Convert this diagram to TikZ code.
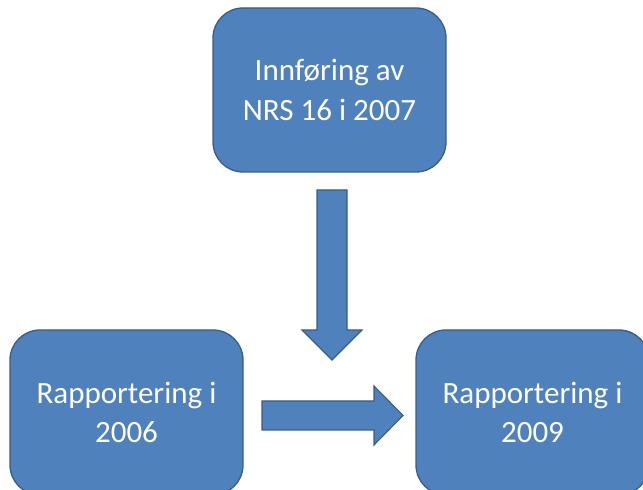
\documentclass[tikz,border=0pt]{standalone}
\usepackage{fontspec}
\setmainfont{Carlito}
\usepackage{tikz}
\usetikzlibrary{positioning}

\definecolor{boxfill}{HTML}{4F81BD}
\definecolor{boxline}{HTML}{385D8A}

\tikzset{
    stepbox/.style = {draw=boxline, line width=1.3pt, fill=boxfill, rounded corners=30pt,
        minimum width=233pt, minimum height=164pt, align=center, text=white,
        font=\fontsize{31}{39.5}\selectfont},
    blockarrow/.style = {draw=boxline, line width=1.1pt, fill=boxfill, line join=miter}
}

\begin{document}
\begin{tikzpicture}[x=1pt, y=1pt]
        \clip (0,0) rectangle (643,490);
        \node[stepbox] (nrs) at (329.5,400) {Innføring av\\NRS 16 i 2007};
        \node[stepbox, minimum height=165pt] (r2006) at (126.5,77.5) {Rapportering i\\2006};
        \node[stepbox, minimum height=165pt] (r2009) at (532.5,77.5) {Rapportering i\\2009};
        % block arrows
        \draw[blockarrow] (317,300) -- (347,300) -- (347,160) -- (362,160)
            -- (332,130) -- (302,160) -- (317,160) -- cycle;
        \draw[blockarrow] (262,89) -- (374,89) -- (374,104) -- (403,74.5)
            -- (374,45) -- (374,60) -- (262,60) -- cycle;
    \end{tikzpicture}
\end{document}
